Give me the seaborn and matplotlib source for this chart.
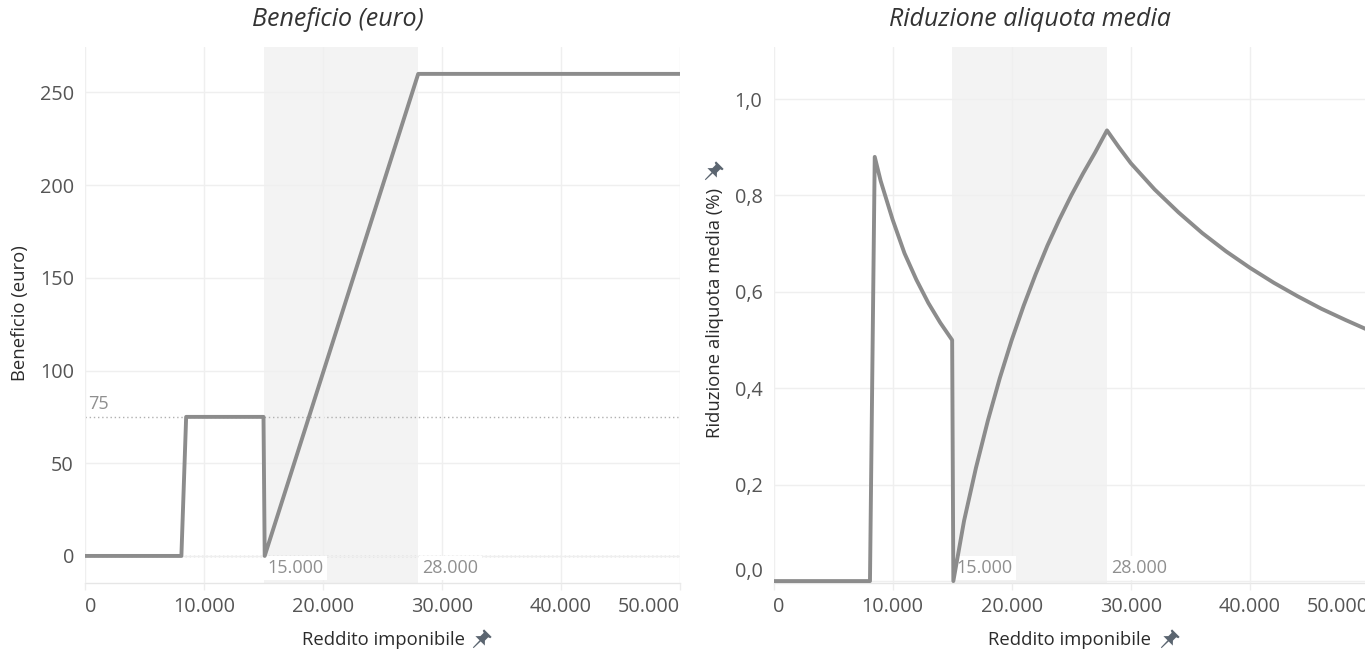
import matplotlib
matplotlib.use("Agg")
import matplotlib.pyplot as plt
import seaborn as sns
from matplotlib.path import Path
from matplotlib.lines import Line2D
from matplotlib.transforms import ScaledTranslation, Affine2D
import numpy as np

# data
reddito_ben = [0, 8100, 8500, 15000, 15100, 28000, 50000]
beneficio = [0, 0, 75, 75, 0, 260, 260]

reddito_rid = [0, 8100, 8500, 9000, 10000, 11000, 12000, 13000, 14000, 15000, 15100,
               16000, 17000, 18000, 19000, 20000, 21000, 22000, 23000, 24000, 25000,
               26000, 27000, 28000, 29000, 30000, 32000, 34000, 36000, 38000, 40000,
               42000, 44000, 46000, 48000, 50000]
riduzione = [0, 0, 0.88, 0.83, 0.75, 0.68, 0.625, 0.577, 0.536, 0.50, 0.0,
             0.125, 0.235, 0.333, 0.421, 0.50, 0.571, 0.636, 0.696, 0.75, 0.80,
             0.846, 0.889, 0.935, 0.90, 0.867, 0.8125, 0.765, 0.722, 0.684, 0.65,
             0.619, 0.591, 0.565, 0.542, 0.52]

x_ticks = [0, 10000, 20000, 30000, 40000, 50000]
x_tick_labels = ['0', '10.000', '20.000', '30.000', '40.000', '50.000']
ben_ticks = [0, 50, 100, 150, 200, 250]
ben_tick_labels = ['0', '50', '100', '150', '200', '250']
rid_ticks = [0, 0.2, 0.4, 0.6, 0.8, 1.0]
rid_tick_labels = ['0,0', '0,2', '0,4', '0,6', '0,8', '1,0']
soglie = [15000, 28000]
soglie_labels = ['15.000', '28.000']
rif_ben = [75, 0]

sns.set_theme(style="whitegrid")
plt.rcParams['font.family'] = ['Open Sans', 'DejaVu Sans']

W, H = 1365, 652
LINE = '#8c8c8c'
GRID = '#efefef'
SHADE = '#f3f3f3'
TICKC = '#555555'
ANNOC = '#8f8f8f'
TITLEC = '#2b2b2b'

fig = plt.figure(figsize=(W / 100, H / 100), dpi=100)
ax1 = fig.add_axes([85 / W, 1 - 583 / H, 595 / W, 536 / H])
ax2 = fig.add_axes([773.5 / W, 1 - 583 / H, 595.5 / W, 536 / H])


def style_axis(ax, yticks, ylabels):
    ax.set_facecolor('white')
    ax.set_xlim(0, 50000)
    ax.set_xticks(x_ticks)
    ax.set_xticklabels(x_tick_labels)
    ax.set_yticks(yticks)
    ax.set_yticklabels(ylabels)
    ax.grid(True, color=GRID, linewidth=1.0)
    ax.set_axisbelow(False)
    for s in ['top', 'right', 'left']:
        ax.spines[s].set_visible(False)
    ax.spines['bottom'].set_color('#e6e6e6')
    ax.spines['bottom'].set_linewidth(1.0)
    ax.tick_params(axis='x', length=5, width=1, color='#ececec', pad=5,
                   labelsize=14.3, labelcolor=TICKC, bottom=True)
    ax.tick_params(axis='y', length=0, pad=8, labelsize=14.3, labelcolor=TICKC)
    xl = ax.get_xticklabels()
    xl[0].set_ha('left')
    xl[-1].set_ha('right')
    # shaded band between the thresholds
    ax.axvspan(soglie[0], soglie[1], color=SHADE, zorder=0, lw=0)
    trans = matplotlib.transforms.blended_transform_factory(ax.transData, ax.transAxes)
    for xv, lab in zip(soglie, soglie_labels):
        ax.text(xv + 350, 0.028, lab, transform=trans, ha='left', va='center',
                fontsize=13, color=ANNOC, zorder=3,
                bbox=dict(facecolor='white', edgecolor='none', pad=2.5))


# left panel
style_axis(ax1, ben_ticks, ben_tick_labels)
ax1.set_ylim(-14.6, 274.5)
for yv in rif_ben:
    ax1.axhline(yv, color='#b0b0b0', linestyle=(0, (1, 2)), linewidth=1.0, zorder=2)
ax1.text(300, 75 + 2, '75', ha='left', va='bottom', fontsize=13, color=ANNOC)
sns.lineplot(x=reddito_ben, y=beneficio, ax=ax1, color=LINE, linewidth=2.8,
             estimator=None, sort=False, zorder=4)

# right panel
style_axis(ax2, rid_ticks, rid_tick_labels)
ax2.set_ylim(-0.004, 1.108)
sns.lineplot(x=reddito_rid, y=riduzione, ax=ax2, color=LINE, linewidth=2.8,
             estimator=None, sort=False, zorder=4)
yl = ax2.get_yticklabels()
yl[0].set_transform(yl[0].get_transform() + ScaledTranslation(0, 12 / 100, fig.dpi_scale_trans))

for ax in (ax1, ax2):
    ax.set_xlabel('')
    ax.set_ylabel('')

# titles and axis titles
fig.text(338 / W, 1 - 20 / H, 'Beneficio (euro)', ha='center', va='center',
         fontsize=18, style='italic', color='#333333')
fig.text(1030 / W, 1 - 20 / H, 'Riduzione aliquota media', ha='center', va='center',
         fontsize=18, style='italic', color='#333333')
fig.text(20 / W, 1 - 313 / H, 'Beneficio (euro)', rotation=90, ha='center', va='center',
         fontsize=13.3, color=TITLEC)
fig.text(715 / W, 1 - 313 / H, 'Riduzione aliquota media (%)', rotation=90, ha='center',
         va='center', fontsize=13.3, color=TITLEC)
fig.text(383 / W, 1 - 640 / H, 'Reddito imponibile', ha='center', va='center',
         fontsize=13.3, color=TITLEC)
fig.text(1070 / W, 1 - 640 / H, 'Reddito imponibile', ha='center', va='center',
         fontsize=13.3, color=TITLEC)

# small pin icons next to the axis titles
pin_verts = [(-0.4, 1.0), (0.4, 1.0), (0.4, 0.86), (0.24, 0.8), (0.24, 0.45),
             (0.5, 0.18), (0.06, 0.18), (0.04, -0.55), (-0.04, -0.55), (-0.06, 0.18),
             (-0.5, 0.18), (-0.24, 0.45), (-0.24, 0.8), (-0.4, 0.86), (-0.4, 1.0)]


def pin_marker(angle):
    v = np.array(pin_verts) - [0, 0.22]
    v = Affine2D().rotate_deg(angle).transform(v)
    return Path(v, closed=True)


for (px, py) in [(480, 640), (1168, 640), (712, 172)]:
    fig.add_artist(Line2D([px / W], [1 - py / H], transform=fig.transFigure,
                          marker=pin_marker(-45), markersize=16, color='#5b6570',
                          markeredgewidth=0, linestyle='none'))

fig.savefig('out.png', dpi=100)
